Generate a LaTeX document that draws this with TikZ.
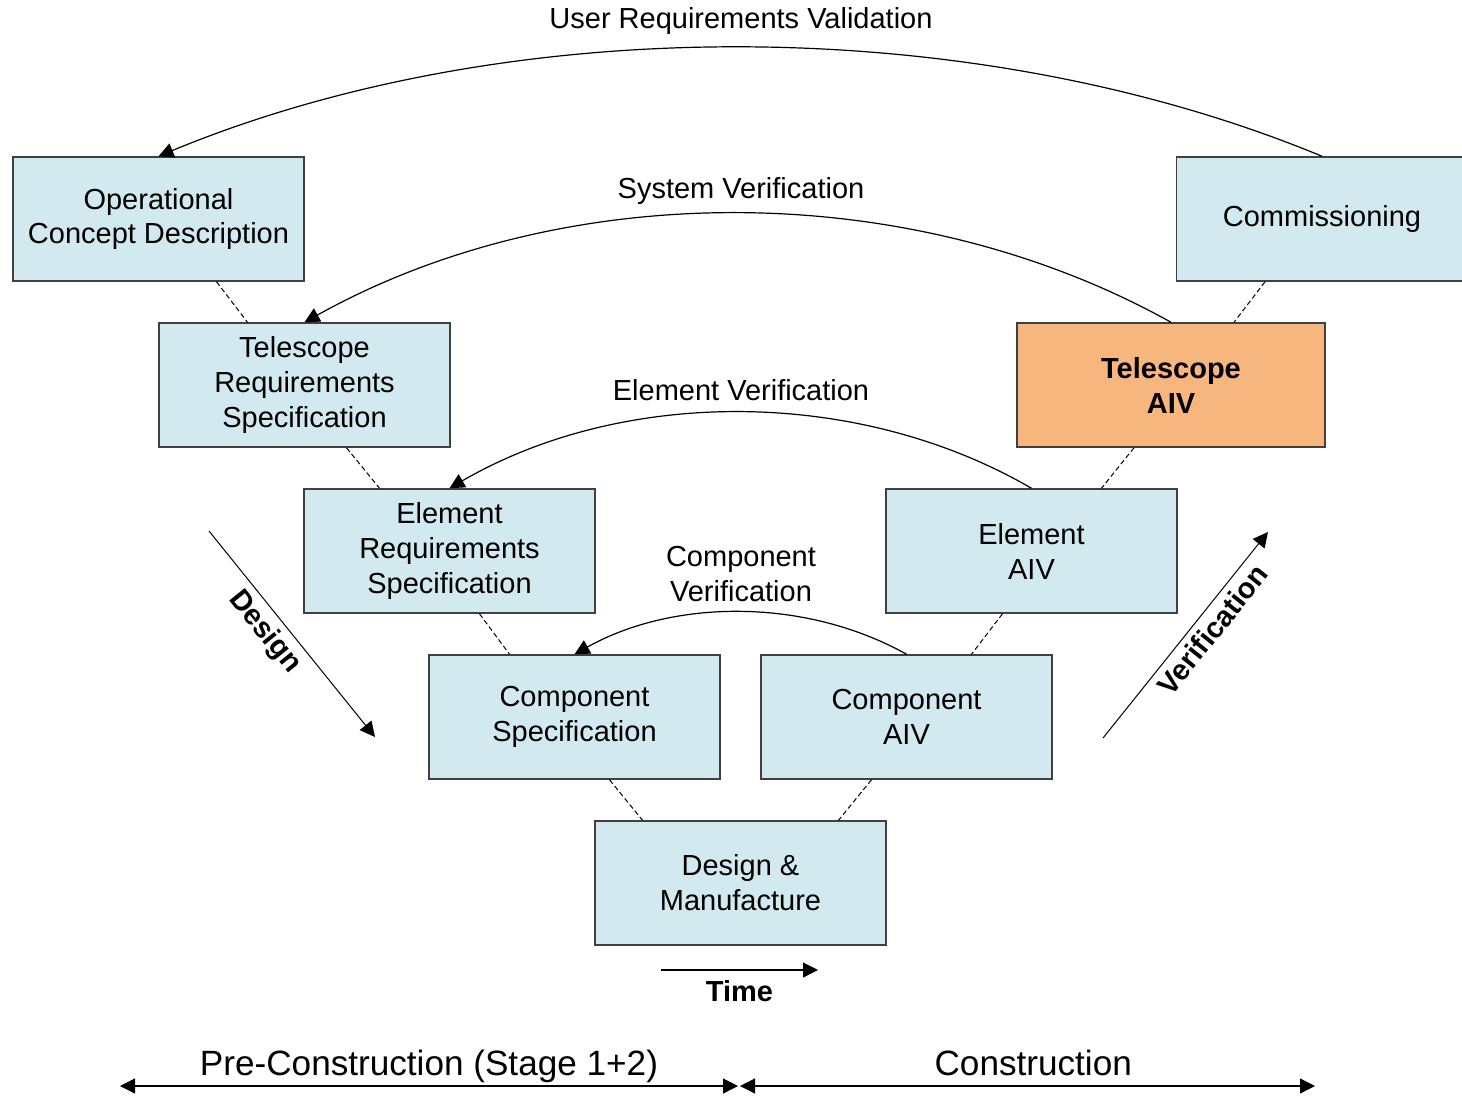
\documentclass[tikz,border=0pt]{standalone}
\usepackage{fontspec}
\setmainfont{Liberation Sans}
\usetikzlibrary{arrows.meta}

\definecolor{boxblu}{HTML}{D2E9EF}
\definecolor{boxarancio}{HTML}{F8B67F}
\definecolor{bordo}{HTML}{404040}

\begin{document}
\begin{tikzpicture}[x=0.2mm, y=-0.2mm,
    blocco/.style={draw=bordo, fill=boxblu, line width=0.3mm, inner sep=0pt,
        minimum width=58.2mm, minimum height=24.8mm, align=center,
        font=\fontsize{16.5}{19.9}\selectfont},
    etichetta/.style={align=center, font=\fontsize{16.5}{19.9}\selectfont},
    grassetto/.style={font=\fontsize{16.5}{19.9}\selectfont\bfseries},
    fase/.style={font=\fontsize{20}{24}\selectfont, text height=0.75em, text depth=0.25em},
    punta/.style={-{Triangle[length=3mm, width=3mm]}},
    doppia/.style={{Triangle[length=3mm, width=3mm]}-{Triangle[length=3mm, width=3mm]}},
    arco/.style={line width=0.24mm, punta},
    tratteggio/.style={line width=0.2mm, dash pattern=on 1mm off 0.6mm}]

    % Area del disegno (il riquadro Commissioning esce a destra)
    \useasboundingbox (0,0) rectangle (1462,1095);

    % Ramo di sinistra: progetto
    \node[blocco] (ocd) at (158.5,219) {Operational\\Concept Description};
    \node[blocco] (trs) at (304.5,385) {Telescope\\Requirements\\Specification};
    \node[blocco] (ers) at (449.5,551) {Element\\Requirements\\Specification};
    \node[blocco] (cs)  at (574.5,717) {Component\\Specification};

    % Fondo della V
    \node[blocco] (dm)  at (740.5,883) {Design \&\\Manufacture};

    % Ramo di destra: integrazione e verifica
    \node[blocco] (caiv) at (906.5,717) {Component\\AIV};
    \node[blocco] (eaiv) at (1031.5,551) {Element\\AIV};
    \node[blocco, fill=boxarancio, minimum width=61.6mm, grassetto]
        (taiv) at (1171,385) {Telescope\\AIV};
    \node[blocco] (comm) at (1322,219) {Commissioning};

    % Collegamenti tratteggiati tra i livelli
    \draw[tratteggio] ([shift={(58,0)}]ocd.south) -- ([shift={(-57,0)}]trs.north);
    \draw[tratteggio] ([shift={(42,0)}]trs.south) -- ([shift={(-70,0)}]ers.north);
    \draw[tratteggio] ([shift={(30,0)}]ers.south) -- ([shift={(-65,0)}]cs.north);
    \draw[tratteggio] ([shift={(35,0)}]cs.south) -- ([shift={(-98,0)}]dm.north);
    \draw[tratteggio] ([shift={(-35,0)}]caiv.south) -- ([shift={(98,0)}]dm.north);
    \draw[tratteggio] ([shift={(-29,0)}]eaiv.south) -- ([shift={(65,0)}]caiv.north);
    \draw[tratteggio] ([shift={(-37,0)}]taiv.south) -- ([shift={(70,0)}]eaiv.north);
    \draw[tratteggio] ([shift={(-57,0)}]comm.south) -- ([shift={(63,0)}]taiv.north);

    % Archi di verifica e validazione
    \draw[arco] (comm.north) .. controls +(-350,-145) and +(350,-145) .. (ocd.north);
    \draw[arco] (taiv.north) .. controls +(-260,-145) and +(260,-145) .. (trs.north);
    \draw[arco] (eaiv.north) .. controls +(-174,-101) and +(174,-101) .. (ers.north);
    \draw[arco] (caiv.north) .. controls +(-100,-56) and +(100,-56) .. (cs.north);

    \node[etichetta] (uv) at (741,21)  {User Requirements Validation};
    \node[etichetta] (sv) at (741,191) {System Verification};
    \node[etichetta] (ev) at (741,390) {Element Verification};
    \node[etichetta] (cv) at (741,574) {Component\\Verification};

    % Frecce laterali e asse del tempo
    \coordinate (D1) at (209,531);
    \coordinate (D2) at (375,737);
    \coordinate (V1) at (1103,738);
    \coordinate (V2) at (1268,532);
    \coordinate (T1) at (661,970);
    \coordinate (T2) at (818,970);

    \draw[line width=0.2mm, punta] (D1) -- (D2)
        node[pos=0.43, sloped, below=1.2mm, inner sep=0pt, grassetto] {Design};
    \draw[line width=0.2mm, punta] (V1) -- (V2)
        node[pos=0.58, sloped, below=1.3mm, inner sep=0pt, grassetto] {Verification};
    \draw[line width=0.25mm, punta] (T1) -- (T2)
        node[midway, below=1.6mm, inner sep=1pt, grassetto] {Time};

    % Fasi del progetto
    \coordinate (F1) at (120,1086);
    \coordinate (F2) at (738,1086);
    \coordinate (F3) at (740,1086);
    \coordinate (F4) at (1315,1086);

    \draw[line width=0.25mm, doppia] (F1) -- (F2)
        node[midway, above, fase] {Pre-Construction (Stage 1+2)};
    \draw[line width=0.25mm, doppia] (F3) -- (F4)
        node[pos=0.51, above, fase] {Construction};

\end{tikzpicture}
\end{document}
